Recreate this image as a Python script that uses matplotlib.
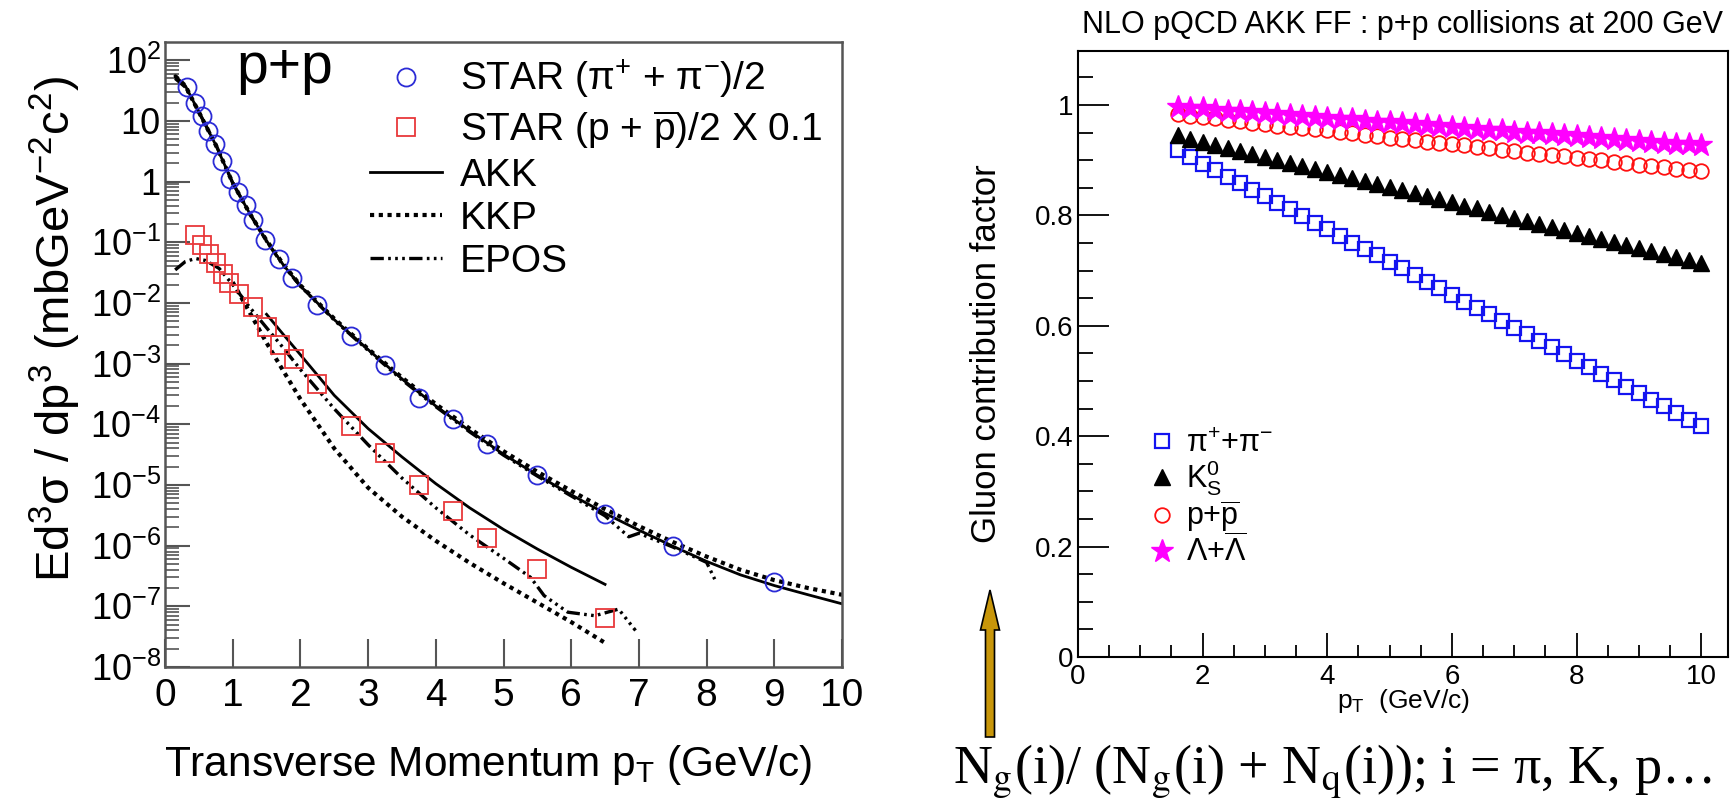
import matplotlib
matplotlib.use('Agg')
import matplotlib.pyplot as plt
from matplotlib.ticker import LogLocator, NullFormatter, NullLocator, MultipleLocator
from matplotlib.lines import Line2D
from matplotlib.patches import FancyArrow

# ---------------- data: left panel (p+p spectra) ----------------
pi_x = [0.32, 0.44, 0.54, 0.64, 0.74, 0.84, 0.96, 1.08, 1.2, 1.3, 1.48, 1.68, 1.88,
        2.25, 2.75, 3.25, 3.75, 4.25, 4.75, 5.5, 6.5, 7.5, 9.0]
pi_y = [36, 19.5, 12, 6.8, 4.1, 2.2, 1.1, 0.68, 0.41, 0.23, 0.107, 0.053, 0.026,
        9.4e-3, 2.9e-3, 9.4e-4, 2.7e-4, 1.2e-4, 4.7e-5, 1.45e-5, 3.3e-6, 1.0e-6, 2.5e-7]

pr_x = [0.45, 0.55, 0.65, 0.75, 0.85, 0.95, 1.1, 1.3, 1.5, 1.7, 1.9, 2.25, 2.75,
        3.25, 3.75, 4.25, 4.75, 5.5, 6.5]
pr_y = [0.13, 0.09, 0.065, 0.045, 0.03, 0.021, 0.014, 8.5e-3, 4.0e-3, 2.0e-3, 1.2e-3,
        4.6e-4, 9.3e-5, 3.4e-5, 1.0e-5, 3.7e-6, 1.35e-6, 4.1e-7, 6.5e-8]

akk_pi_x = [0.15, 0.3, 0.5, 0.75, 1.0, 1.25, 1.5, 1.75, 2.0, 2.5, 3.0, 3.5, 4.0, 4.5,
            5.0, 5.5, 6.0, 6.5, 7.0, 7.5, 8.0, 8.5, 9.0, 9.5, 10.0]
akk_pi_y = [55, 38, 14, 4.0, 0.95, 0.3, 0.105, 0.042, 0.019, 5.3e-3, 1.7e-3, 5.6e-4,
            2.0e-4, 7.8e-5, 3.2e-5, 1.45e-5, 6.9e-6, 3.4e-6, 1.8e-6, 9.8e-7, 5.5e-7,
            3.3e-7, 2.2e-7, 1.55e-7, 1.1e-7]
kkp_pi_x = akk_pi_x
kkp_pi_y = [55, 38, 14, 4.0, 0.95, 0.3, 0.107, 0.043, 0.0195, 5.5e-3, 1.75e-3, 5.9e-4,
            2.15e-4, 8.5e-5, 3.6e-5, 1.65e-5, 8.0e-6, 4.0e-6, 2.1e-6, 1.15e-6, 6.6e-7,
            4.0e-7, 2.7e-7, 2.0e-7, 1.55e-7]
epos_pi_x = [0.15, 0.3, 0.5, 0.75, 1.0, 1.25, 1.5, 1.75, 2.0, 2.5, 3.0, 3.5, 4.0, 4.5,
             5.0, 5.5, 6.0, 6.5, 6.85, 7.0, 7.5, 8.0, 8.12]
epos_pi_y = [50, 36, 14, 4.1, 0.95, 0.3, 0.104, 0.041, 0.019, 5.2e-3, 1.65e-3, 5.4e-4,
             1.95e-4, 7.5e-5, 3.1e-5, 1.4e-5, 6.6e-6, 3.1e-6, 1.4e-6, 1.6e-6, 9.5e-7,
             5.3e-7, 2.8e-7]

akk_p_x = [1.5, 1.75, 2.0, 2.25, 2.5, 3.0, 3.5, 4.0, 4.5, 5.0, 5.5, 6.0, 6.5]
akk_p_y = [6.5e-3, 3.0e-3, 1.4e-3, 6.5e-4, 3.0e-4, 8.5e-5, 2.9e-5, 1.05e-5, 4.2e-6,
           1.85e-6, 8.8e-7, 4.4e-7, 2.3e-7]
kkp_p_x = [1.0, 1.25, 1.5, 1.75, 2.0, 2.5, 3.0, 3.5, 4.0, 4.5, 5.0, 5.5, 6.0, 6.5]
kkp_p_y = [2.2e-2, 7.0e-3, 2.2e-3, 7.5e-4, 2.6e-4, 4.0e-5, 9.0e-6, 3.0e-6, 1.2e-6,
           5.2e-7, 2.4e-7, 1.15e-7, 5.5e-8, 2.5e-8]
epos_p_x = [0.15, 0.3, 0.45, 0.6, 0.8, 1.0, 1.25, 1.5, 1.75, 2.0, 2.5, 3.0, 3.5, 4.0,
            4.5, 5.0, 5.4, 5.6, 5.95, 6.35, 6.7, 6.95]
epos_p_y = [0.035, 0.048, 0.054, 0.05, 0.037, 0.02, 8.5e-3, 3.9e-3, 1.8e-3, 8.0e-4,
            1.8e-4, 4.6e-5, 1.3e-5, 4.2e-6, 1.5e-6, 6.2e-7, 3.0e-7, 1.5e-7, 8.0e-8,
            7.0e-8, 9.0e-8, 4.0e-8]

left_yticks = [1e-8, 1e-7, 1e-6, 1e-5, 1e-4, 1e-3, 1e-2, 1e-1, 1, 10, 100]
left_ylabels = [r'$\mathregular{10^{-8}}$', r'$\mathregular{10^{-7}}$', r'$\mathregular{10^{-6}}$',
                r'$\mathregular{10^{-5}}$', r'$\mathregular{10^{-4}}$', r'$\mathregular{10^{-3}}$',
                r'$\mathregular{10^{-2}}$', r'$\mathregular{10^{-1}}$', '1', '10',
                r'$\mathregular{10^{2}}$']
left_xticks = [0, 1, 2, 3, 4, 5, 6, 7, 8, 9, 10]

# ---------------- data: right panel (gluon contribution factor) ----------------
g_x = [1.6, 1.8, 2.0, 2.2, 2.4, 2.6, 2.8, 3.0, 3.2, 3.4,
       3.6, 3.8, 4.0, 4.2, 4.4, 4.6, 4.8, 5.0, 5.2, 5.4,
       5.6, 5.8, 6.0, 6.2, 6.4, 6.6, 6.8, 7.0, 7.2, 7.4,
       7.6, 7.8, 8.0, 8.2, 8.4, 8.6, 8.8, 9.0, 9.2, 9.4,
       9.6, 9.8, 10.0]
g_pi = [0.918, 0.906, 0.894, 0.882, 0.870, 0.859, 0.847, 0.835, 0.823, 0.811,
        0.799, 0.787, 0.775, 0.763, 0.751, 0.740, 0.728, 0.716, 0.704, 0.692,
        0.680, 0.668, 0.656, 0.644, 0.632, 0.621, 0.609, 0.597, 0.585, 0.573,
        0.561, 0.549, 0.537, 0.525, 0.513, 0.502, 0.490, 0.478, 0.466, 0.454,
        0.442, 0.430, 0.418]
g_k0 = [0.945, 0.939, 0.934, 0.928, 0.923, 0.917, 0.912, 0.906, 0.901, 0.895,
        0.890, 0.884, 0.879, 0.873, 0.868, 0.862, 0.857, 0.851, 0.846, 0.840,
        0.835, 0.829, 0.824, 0.818, 0.813, 0.807, 0.801, 0.796, 0.790, 0.785,
        0.779, 0.774, 0.768, 0.763, 0.757, 0.752, 0.746, 0.741, 0.735, 0.730,
        0.724, 0.719, 0.713]
g_p = [0.983, 0.981, 0.978, 0.976, 0.973, 0.971, 0.968, 0.966, 0.963, 0.961,
       0.959, 0.956, 0.954, 0.951, 0.949, 0.946, 0.944, 0.941, 0.939, 0.936,
       0.934, 0.932, 0.929, 0.927, 0.924, 0.922, 0.919, 0.917, 0.914, 0.912,
       0.910, 0.907, 0.905, 0.902, 0.900, 0.897, 0.895, 0.892, 0.890, 0.887,
       0.885, 0.883, 0.880]
g_lam = [0.997, 0.995, 0.994, 0.992, 0.990, 0.989, 0.987, 0.985, 0.984, 0.982,
         0.980, 0.979, 0.977, 0.975, 0.974, 0.972, 0.970, 0.969, 0.967, 0.965,
         0.964, 0.962, 0.960, 0.959, 0.957, 0.955, 0.954, 0.952, 0.950, 0.949,
         0.947, 0.945, 0.944, 0.942, 0.940, 0.939, 0.937, 0.935, 0.934, 0.932,
         0.930, 0.929, 0.927]
right_xticks = [0, 2, 4, 6, 8, 10]
right_yticks = [0, 0.2, 0.4, 0.6, 0.8, 1.0]
right_ylabels = ['0', '0.2', '0.4', '0.6', '0.8', '1']

# ---------------- style ----------------
plt.rcParams['font.family'] = ['Liberation Sans', 'DejaVu Sans']
plt.rcParams['mathtext.fontset'] = 'custom'
plt.rcParams['mathtext.rm'] = 'Liberation Sans'
plt.rcParams['mathtext.it'] = 'Liberation Sans:italic'
plt.rcParams['mathtext.bf'] = 'Liberation Sans:bold'

W, H = 1734, 799
fig = plt.figure(figsize=(W / 100, H / 100), dpi=100)


def axrect(l, t, r, b):
    return [l / W, 1 - b / H, (r - l) / W, (b - t) / H]


BLUE = '#2b2bd6'
RED = '#e8383a'
GRAY = '#555555'
kkp_ls = (0, (1.0, 1.1))
epos_ls = (0, (4, 1.3, 0.8, 1.3, 0.8, 1.3, 0.8, 1.3))

# ---------------- left panel ----------------
axL = fig.add_axes(axrect(165, 42, 842, 667))
axL.set_yscale('log')
axL.set_xlim(0, 10)
axL.set_ylim(1e-8, 10 ** 2.3)

axL.plot(akk_pi_x, akk_pi_y, color='k', lw=2.0)
axL.plot(kkp_pi_x, kkp_pi_y, color='k', lw=3.0, ls=kkp_ls)
axL.plot(epos_pi_x, epos_pi_y, color='k', lw=2.4, ls=epos_ls)
axL.plot(akk_p_x, akk_p_y, color='k', lw=2.0)
axL.plot(kkp_p_x, kkp_p_y, color='k', lw=3.0, ls=kkp_ls)
axL.plot(epos_p_x, epos_p_y, color='k', lw=2.4, ls=epos_ls)
axL.plot(pi_x, pi_y, ls='none', marker='o', ms=13, mfc='none', mec=BLUE, mew=1.3)
axL.plot(pr_x, pr_y, ls='none', marker='s', ms=13, mfc='none', mec=RED, mew=1.3)

for s in axL.spines.values():
    s.set_color(GRAY)
    s.set_linewidth(1.8)
axL.set_yticks(left_yticks, left_ylabels)
axL.yaxis.set_minor_locator(LogLocator(base=10, subs=(2, 3, 4, 5, 6, 7, 8, 9), numticks=30))
axL.yaxis.set_minor_formatter(NullFormatter())
axL.set_xticks(left_xticks, [str(v) for v in left_xticks])
axL.xaxis.set_minor_locator(NullLocator())
axL.tick_params(which='both', direction='in', top=False, right=False, color=GRAY)
axL.tick_params(axis='y', which='major', length=18, width=1.5, labelsize=26, pad=3)
axL.tick_params(axis='y', which='minor', length=10, width=1.2)
axL.tick_params(axis='x', which='major', length=20, width=1.5, labelsize=28, pad=8)

axL.set_ylabel('Ed$^{3}$σ / dp$^{3}$ (mbGeV$^{-2}$c$^{2}$)', fontsize=34, va='center')
axL.yaxis.set_label_coords(-0.162, 0.54)
axL.set_xlabel(r'Transverse Momentum p$_{\mathrm{T}}$ (GeV/c)', fontsize=30.5, va='center')
axL.xaxis.set_label_coords(0.477, -0.157)

axL.text(0.106, 0.934, 'p+p', transform=axL.transAxes, fontsize=41, va='baseline', ha='left')

hL = [Line2D([], [], ls='none', marker='o', ms=13, mfc='none', mec=BLUE, mew=1.3),
      Line2D([], [], ls='none', marker='s', ms=13, mfc='none', mec=RED, mew=1.3),
      Line2D([], [], color='k', lw=2.0),
      Line2D([], [], color='k', lw=3.0, ls=kkp_ls),
      Line2D([], [], color='k', lw=2.4, ls=epos_ls)]
lL = ['STAR (π$^{+}$ + π$^{-}$)/2', r'STAR (p + $\overline{\mathrm{p}}$)/2 X 0.1',
      'AKK', 'KKP', 'EPOS']
axL.legend(hL, lL, loc='upper left', bbox_to_anchor=(0.303, 0.975), frameon=False,
           fontsize=28, handlelength=1.85, handletextpad=0.45, labelspacing=0.18,
           borderpad=0, borderaxespad=0)

# ---------------- right panel ----------------
axR = fig.add_axes(axrect(1078, 51, 1728, 657))
axR.set_xlim(0, 10.43)
axR.set_ylim(0, 1.098)
axR.plot(g_x, g_pi, ls='none', marker='s', ms=10, mfc='none', mec='#1414f0', mew=1.6)
axR.plot(g_x, g_k0, ls='none', marker='^', ms=12, color='k')
axR.plot(g_x, g_p, ls='none', marker='o', ms=10.5, mfc='none', mec='#ff1010', mew=1.3)
axR.plot(g_x, g_lam, ls='none', marker='*', ms=17, color='#ff00ff', mec='#ff00ff')

for s in axR.spines.values():
    s.set_color('black')
    s.set_linewidth(1.5)
axR.set_xticks(right_xticks, [str(v) for v in right_xticks])
axR.set_yticks(right_yticks, right_ylabels)
axR.xaxis.set_minor_locator(MultipleLocator(0.5))
axR.yaxis.set_minor_locator(MultipleLocator(0.05))
axR.tick_params(which='both', direction='in', top=False, right=False, color='black')
axR.tick_params(axis='y', which='major', length=22, width=1.3, labelsize=20, pad=3)
axR.tick_params(axis='y', which='minor', length=11, width=1.3)
axR.tick_params(axis='x', which='major', length=17, width=1.3, labelsize=20, pad=5)
axR.tick_params(axis='x', which='minor', length=9, width=1.3)

axR.set_ylabel('Gluon contribution factor', fontsize=25, va='center')
axR.yaxis.set_label_coords(-0.14, 0.5)
axR.set_xlabel(r'p$_{\mathrm{T}}$  (GeV/c)', fontsize=19, va='center')
axR.xaxis.set_label_coords(0.5, -0.0726)

hR = [Line2D([], [], ls='none', marker='s', ms=10, mfc='none', mec='#1414f0', mew=1.6),
      Line2D([], [], ls='none', marker='^', ms=12, color='k'),
      Line2D([], [], ls='none', marker='o', ms=10.5, mfc='none', mec='#ff1010', mew=1.3),
      Line2D([], [], ls='none', marker='*', ms=17, color='#ff00ff')]
lR = ['π$^{+}$+π$^{-}$', r'$\mathrm{K^{0}_{S}}$', r'p+$\overline{\mathrm{p}}$',
      r'Λ+$\overline{\mathrm{Λ}}$']
axR.legend(hR, lR, loc='upper left', bbox_to_anchor=(0.108, 0.377), frameon=False,
           fontsize=22, handlelength=0.9, handletextpad=0.35, labelspacing=0.0,
           borderpad=0, borderaxespad=0)

fig.text(1082 / W, 1 - 33 / H, 'NLO pQCD AKK FF : p+p collisions at 200 GeV',
         fontsize=22, ha='left', va='baseline')

# ---------------- annotation: arrow + formula ----------------
arrow = FancyArrow(9.90, 0.62, 0, 1.47, width=0.09, head_width=0.19, head_length=0.40,
                   length_includes_head=True, transform=fig.dpi_scale_trans,
                   fc='#C8960A', ec='black', lw=1.2)
fig.patches.append(arrow)

fig.text(953 / W, 1 - 783 / H,
         r'N$_{\mathrm{g}}$(i)/ (N$_{\mathrm{g}}$(i) + N$_{\mathrm{q}}$(i)); i = π, K, p…',
         fontsize=39, family=['Liberation Serif', 'DejaVu Serif'], math_fontfamily='stix',
         ha='left', va='baseline')

fig.savefig('out.png', dpi=100)
